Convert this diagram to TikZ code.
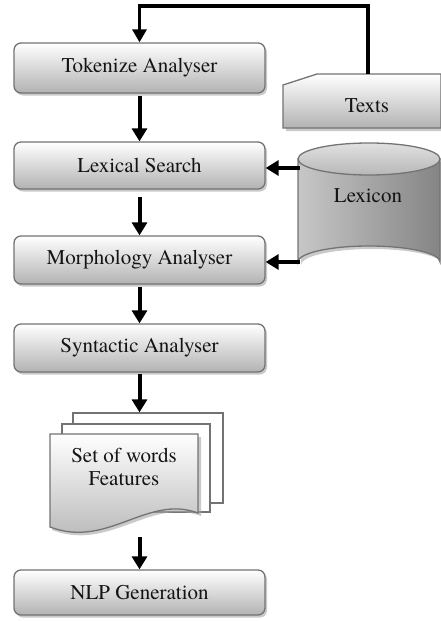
\documentclass[tikz,border=0pt]{standalone}
\usepackage{fontspec}
\newfontfamily\diagfont{texgyretermes-regular.otf}
\usetikzlibrary{shadows,arrows.meta,calc}
\begin{document}
\begin{tikzpicture}[x=1pt,y=-1pt,
  every node/.style={font=\diagfont\fontsize{21}{24.5}\selectfont, text=black!92},
  procbox/.style={draw=black!55, line width=1.3pt, rounded corners=7pt,
    top color=white, bottom color=black!30, minimum width=251pt,
    drop shadow={shadow xshift=2pt, shadow yshift=-2.5pt, fill=black!35, opacity=0.6}},
  sheet/.style={draw=black!55, line width=1.3pt, fill=white},
  arr/.style={line width=4pt, -{Triangle[width=15pt,length=13pt]}},
  fbline/.style={line width=3.2pt, -{Triangle[width=14pt,length=13pt]}}
]
\useasboundingbox (0,0) rectangle (441,621);

% process boxes
\node[procbox, minimum height=50pt] (tok) at (139.5,68) {Tokenize Analyser};
\node[procbox, minimum height=47pt] (lex) at (139.5,165.5) {Lexical Search};
\node[procbox, minimum height=48pt] (mor) at (139.5,260) {Morphology Analyser};
\node[procbox, minimum height=48pt] (syn) at (139.5,348) {Syntactic Analyser};
\node[procbox, minimum height=45pt] (nlp) at (139.5,592.5) {NLP Generation};

% Texts (card shape)
\fill[black!35, opacity=0.6] (286,88)--(320,77)--(443,77)--(443,131)--(286,131)--cycle;
\draw[draw=black!55, line width=1.3pt, top color=white, bottom color=black!30]
  (283,85)--(317,74)--(441,74)--(441,128)--(283,128)--cycle;
\node (texts) at (367,106) {Texts};
\coordinate (textstop) at (368,74);
\coordinate (fb) at (139.5,6);

% Lexicon cylinder
\fill[black!35, opacity=0.6] (301,162) -- (301,265) arc[start angle=180,end angle=360,x radius=71,y radius=16] -- (443,162) -- cycle;
\draw[draw=black!55, line width=1.3pt, left color=black!22, right color=black!48]
  (298,159) -- (298,262) arc[start angle=180,end angle=360,x radius=71,y radius=16] -- (440,159) -- cycle;
\draw[draw=black!55, line width=1.3pt, top color=black!12, bottom color=black!28]
  (369,159) ellipse[x radius=71, y radius=16];
\node (lexicon) at (368,196) {Lexicon};
\coordinate (lexA) at (300,168);
\coordinate (lexB) at (300,262);

% document stack
\node[sheet, minimum width=150pt, minimum height=90pt, inner sep=0pt] (doc3) at (148,458) {};
\node[sheet, minimum width=148pt, minimum height=88pt, inner sep=0pt] (doc2) at (136,468) {};
\fill[black!35, opacity=0.6] (52,437) -- (201,437) -- (201,516)
  .. controls (150,497) and (110,552) .. (52,530) -- cycle;
\draw[draw=black!55, line width=1.3pt, top color=white, bottom color=black!30]
  (50,434) -- (198,434) -- (198,513)
  .. controls (147,494) and (108,549) .. (50,527) -- cycle;
\node[align=center, inner sep=0pt] (doc) at (124,467) {Set of words\\[-2pt]Features};
\coordinate (docbot) at (139.5,537);

% connectors
\draw[fbline] (textstop) |- (fb) -- (tok.north);
\draw[arr, shorten <=2pt] (tok.south) -- (lex.north);
\draw[arr, shorten <=7pt] (lex.south) -- (mor.north);
\draw[arr, shorten <=2pt] (mor.south) -- (syn.north);
\draw[arr, shorten <=1pt] (syn.south) -- (syn.south |- doc3.north);
\draw[arr] (docbot) -- (nlp.north);
\draw[arr] (lexA) -- (lexA -| lex.east);
\draw[arr] (lexB) -- (lexB -| mor.east);
\end{tikzpicture}
\end{document}
